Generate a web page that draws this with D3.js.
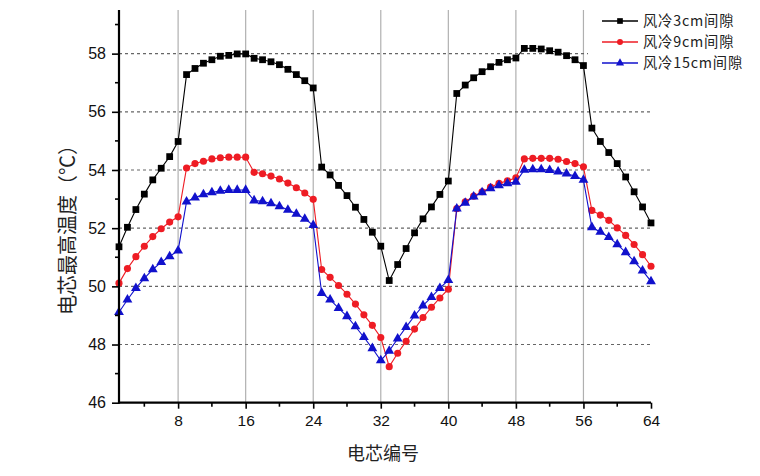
<!DOCTYPE html>
<html><head><meta charset="utf-8">
<script src="https://cdn.jsdelivr.net/npm/d3@7"></script>
<style>
html,body{margin:0;padding:0;background:#fff;}
svg{display:block;font-family:"Liberation Sans",Arial,sans-serif;}
</style></head>
<body><svg id="c" width="760" height="476"></svg>
<script>
const cellIds = d3.range(1, 65);
const seriesNames = ["风冷3cm间隙", "风冷9cm间隙", "风冷15cm间隙"];
const gap3cm = [51.36,52.03,52.64,53.17,53.66,54.06,54.46,54.98,
57.28,57.49,57.67,57.79,57.91,57.94,57.99,57.99,
57.84,57.79,57.72,57.62,57.46,57.28,57.07,56.82,
54.10,53.83,53.47,53.12,52.72,52.30,51.86,51.38,
50.20,50.75,51.30,51.84,52.32,52.73,53.16,53.62,
56.63,56.92,57.17,57.38,57.55,57.70,57.79,57.85,
58.18,58.18,58.16,58.10,58.05,57.93,57.79,57.59,
55.44,54.98,54.60,54.22,53.76,53.25,52.73,52.18];
const gap9cm = [50.11,50.61,51.02,51.38,51.71,51.98,52.21,52.39,
54.07,54.22,54.30,54.38,54.42,54.44,54.44,54.44,
53.92,53.87,53.79,53.69,53.55,53.39,53.21,52.99,
50.58,50.31,50.03,49.73,49.39,49.02,48.66,48.24,
47.24,47.70,48.11,48.53,48.93,49.28,49.60,49.90,
52.67,52.91,53.10,53.25,53.41,53.54,53.63,53.73,
54.38,54.40,54.40,54.40,54.37,54.29,54.22,54.11,
52.61,52.45,52.27,52.01,51.75,51.44,51.09,50.69];
const gap15cm = [49.11,49.54,49.94,50.27,50.58,50.83,51.03,51.23,
52.91,53.05,53.16,53.23,53.28,53.31,53.31,53.31,
52.95,52.92,52.85,52.75,52.63,52.49,52.32,52.10,
49.77,49.54,49.25,48.97,48.62,48.25,47.87,47.45,
47.78,48.20,48.60,48.99,49.34,49.63,49.94,50.21,
52.67,52.87,53.08,53.23,53.37,53.47,53.54,53.59,
54.00,54.02,54.02,53.99,53.94,53.87,53.79,53.66,
52.03,51.87,51.69,51.44,51.17,50.86,50.54,50.17];
const xMajorTicks = [8,16,24,32,40,48,56,64];
const xMinorTicks = [4,12,20,28,36,44,52,60];
const yMajorTicks = [46,48,50,52,54,56,58];
const yMinorTicks = [47,49,51,53,55,57,59];
const xTitle = "电芯编号";
const yTitle = "电芯最高温度（℃）";

const svg = d3.select("#c");
const x = d3.scaleLinear().domain([1,64]).range([119,651]);
const y = d3.scaleLinear().domain([46,59.5]).range([402.7,10]);

const series = [
  {name: seriesNames[0], values: gap3cm, color: "#000000", shape: d3.symbolSquare, size: 46},
  {name: seriesNames[1], values: gap9cm, color: "#ee1c24", shape: d3.symbolCircle, size: 40},
  {name: seriesNames[2], values: gap15cm, color: "#1111cc", shape: d3.symbolTriangle, size: 42}
];

// grid
const grid = svg.append("g");
grid.selectAll("line.v").data(xMajorTicks.filter(d=>d<64)).join("line")
  .attr("x1", d=>x(d)).attr("x2", d=>x(d)).attr("y1", y(59.5)).attr("y2", y(46))
  .attr("stroke", "#b0b0b0").attr("stroke-width", 1.2);
grid.selectAll("line.h").data(yMajorTicks.filter(d=>d>46)).join("line")
  .attr("x1", x(1)).attr("x2", x(64)).attr("y1", d=>y(d)).attr("y2", d=>y(d))
  .attr("stroke", "#666").attr("stroke-width", 1.2).attr("stroke-dasharray", "3,3");

// legend background covers grid
svg.append("rect").attr("x", 588).attr("y", 0).attr("width", 172).attr("height", 74).attr("fill", "#fff");

// series
const line = d3.line().x((d,i)=>x(cellIds[i])).y(d=>y(d));
series.forEach(s => {
  const g = svg.append("g");
  g.append("path").datum(s.values).attr("d", line).attr("fill", "none")
    .attr("stroke", s.color).attr("stroke-width", 1.1);
  g.selectAll("path.m").data(s.values).join("path")
    .attr("d", d3.symbol().type(s.shape).size(s.size))
    .attr("transform", (d,i)=>`translate(${x(cellIds[i])},${y(d)})`)
    .attr("fill", s.color);
});

// axes
const yAxis = svg.append("g").attr("transform", `translate(${x(1)},0)`);
yAxis.call(d3.axisLeft(y).tickValues(yMajorTicks).tickSize(7).tickPadding(6).tickFormat(d3.format("d")));
yAxis.call(g=>g.select(".domain").remove());
yAxis.selectAll(".tick text").attr("font-size", 16).attr("font-family", "Liberation Sans, Arial, sans-serif").attr("fill", "#111");
yAxis.selectAll(".tick line").attr("stroke-width", 1.6);
yAxis.selectAll("line.minor").data(yMinorTicks).join("line").attr("class","minor")
  .attr("x1", -4).attr("x2", 0).attr("y1", d=>y(d)).attr("y2", d=>y(d)).attr("stroke", "#000").attr("stroke-width", 1.6);
yAxis.append("line").attr("x1",0).attr("x2",0).attr("y1", y(59.5)).attr("y2", y(46)+1).attr("stroke","#000").attr("stroke-width",2.2);

const xAxis = svg.append("g").attr("transform", `translate(0,${y(46)})`);
xAxis.call(d3.axisBottom(x).tickValues(xMajorTicks).tickSize(6).tickPadding(6).tickFormat(d3.format("d")));
xAxis.call(g=>g.select(".domain").remove());
xAxis.selectAll(".tick text").attr("font-size", 15.5).attr("font-family", "Liberation Sans, Arial, sans-serif").attr("fill", "#111");
xAxis.selectAll(".tick line").attr("stroke-width", 1.6);
xAxis.selectAll("line.minor").data(xMinorTicks).join("line").attr("class","minor")
  .attr("x1", d=>x(d)).attr("x2", d=>x(d)).attr("y1", 0).attr("y2", 4).attr("stroke", "#000").attr("stroke-width", 1.6);
xAxis.append("line").attr("x1", x(1)-1).attr("x2", x(64)).attr("y1",0).attr("y2",0).attr("stroke","#000").attr("stroke-width",2.2);

// titles
svg.append("text").attr("x", 383).attr("y", 460).attr("text-anchor", "middle")
  .attr("font-family", "Noto Sans CJK SC").attr("font-size", 18).attr("fill", "#222").text(xTitle);
svg.append("text").attr("transform", "translate(75,225) rotate(-90)").attr("text-anchor", "middle")
  .attr("font-family", "Noto Sans CJK SC").attr("font-size", 20).attr("fill", "#222").text(yTitle);

// legend
const leg = svg.append("g");
series.forEach((s, i) => {
  const yy = 21 + i * 21;
  leg.append("line").attr("x1", 602).attr("x2", 638).attr("y1", yy).attr("y2", yy)
    .attr("stroke", s.color).attr("stroke-width", 1.6);
  leg.append("path").attr("d", d3.symbol().type(s.shape).size(s.size*0.7))
    .attr("transform", `translate(620,${yy})`).attr("fill", s.color);
  leg.append("text").attr("x", 643).attr("y", yy).attr("dy", "0.35em")
    .attr("font-family", "Noto Sans CJK SC").attr("font-size", 14.3).attr("letter-spacing", 0.8)
    .attr("fill", "#222").text(s.name);
});
</script></body></html>
